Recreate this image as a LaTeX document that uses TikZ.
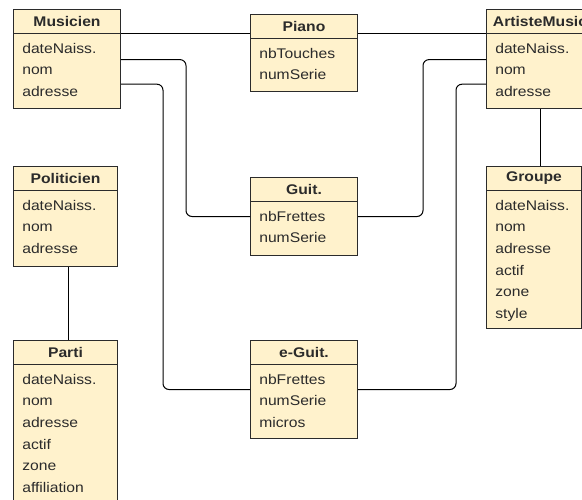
\documentclass[tikz,border=0pt]{standalone}
\usepackage{fontspec}
\usetikzlibrary{calc}
\newfontfamily\umlfont[FakeStretch=1.12]{Liberation Sans}
\definecolor{classfill}{HTML}{FFF2CC}
\definecolor{classline}{HTML}{2B2B2B}

\begin{document}
\begin{tikzpicture}[x=1pt, y=-1pt, semithick,
    font=\umlfont\fontsize{14}{16}\selectfont, text=classline,
    classbox/.style={draw=classline, fill=classfill, line width=1pt, inner sep=0, anchor=north west},
    title/.style={font=\umlfont\bfseries\fontsize{14}{16}\selectfont, minimum height=24, inner sep=0, anchor=north},
    attr/.style={anchor=north west, inner sep=0, text height=15, text depth=6},
    sep/.style={draw=classline, line width=1pt},
    link/.style={draw=black, line width=1pt, rounded corners=6}]
    \useasboundingbox (0,0) rectangle (582,499);
    \clip (0,0) rectangle (582,499);
    \fill[white] (0,0) rectangle (582,499);

    % Musicien
    \node[classbox, minimum width=107, minimum height=99] (musicien) at (13,9) {};
    \node[title] (musicien-title) at (musicien.north) {Musicien};
    \draw[sep] (musicien.west |- musicien-title.south) -- (musicien.east |- musicien-title.south);
    \node[attr] (musicien-date) at ($(musicien.north west)+(9,29)$) {dateNaiss.};
    \node[attr] (musicien-nom) at (musicien-date.south west) {nom};
    \node[attr] (musicien-adresse) at (musicien-nom.south west) {adresse};

    % Piano
    \node[classbox, minimum width=107, minimum height=77] (piano) at (250,14) {};
    \node[title] (piano-title) at (piano.north) {Piano};
    \draw[sep] (piano.west |- piano-title.south) -- (piano.east |- piano-title.south);
    \node[attr] (piano-touches) at ($(piano.north west)+(9,29)$) {nbTouches};
    \node[attr] (piano-serie) at (piano-touches.south west) {numSerie};

    % ArtisteMusic
    \node[classbox, minimum width=107, minimum height=99] (artiste) at (486,9) {};
    \node[title] (artiste-title) at (artiste.north) {ArtisteMusic};
    \draw[sep] (artiste.west |- artiste-title.south) -- (artiste.east |- artiste-title.south);
    \node[attr] (artiste-date) at ($(artiste.north west)+(9,29)$) {dateNaiss.};
    \node[attr] (artiste-nom) at (artiste-date.south west) {nom};
    \node[attr] (artiste-adresse) at (artiste-nom.south west) {adresse};

    % Politicien
    \node[classbox, minimum width=104, minimum height=100] (politicien) at (13,166) {};
    \node[title] (politicien-title) at (politicien.north) {Politicien};
    \draw[sep] (politicien.west |- politicien-title.south) -- (politicien.east |- politicien-title.south);
    \node[attr] (politicien-date) at ($(politicien.north west)+(9,29)$) {dateNaiss.};
    \node[attr] (politicien-nom) at (politicien-date.south west) {nom};
    \node[attr] (politicien-adresse) at (politicien-nom.south west) {adresse};

    % Parti
    \node[classbox, minimum width=104, minimum height=175] (parti) at (13,340) {};
    \node[title] (parti-title) at (parti.north) {Parti};
    \draw[sep] (parti.west |- parti-title.south) -- (parti.east |- parti-title.south);
    \node[attr] (parti-date) at ($(parti.north west)+(9,29)$) {dateNaiss.};
    \node[attr] (parti-nom) at (parti-date.south west) {nom};
    \node[attr] (parti-adresse) at (parti-nom.south west) {adresse};
    \node[attr] (parti-actif) at (parti-adresse.south west) {actif};
    \node[attr] (parti-zone) at (parti-actif.south west) {zone};
    \node[attr] (parti-affil) at (parti-zone.south west) {affiliation};

    % Guit.
    \node[classbox, minimum width=107, minimum height=78] (guit) at (250,177) {};
    \node[title] (guit-title) at (guit.north) {Guit.};
    \draw[sep] (guit.west |- guit-title.south) -- (guit.east |- guit-title.south);
    \node[attr] (guit-frettes) at ($(guit.north west)+(9,29)$) {nbFrettes};
    \node[attr] (guit-serie) at (guit-frettes.south west) {numSerie};

    % e-Guit.
    \node[classbox, minimum width=107, minimum height=98] (eguit) at (250,340) {};
    \node[title] (eguit-title) at (eguit.north) {e-Guit.};
    \draw[sep] (eguit.west |- eguit-title.south) -- (eguit.east |- eguit-title.south);
    \node[attr] (eguit-frettes) at ($(eguit.north west)+(9,29)$) {nbFrettes};
    \node[attr] (eguit-serie) at (eguit-frettes.south west) {numSerie};
    \node[attr] (eguit-micros) at (eguit-serie.south west) {micros};

    % Groupe
    \node[classbox, minimum width=95, minimum height=162] (groupe) at (486,166) {};
    \node[title] (groupe-title) at (groupe.north) {Groupe};
    \draw[sep] (groupe.west |- groupe-title.south) -- (groupe.east |- groupe-title.south);
    \node[attr] (groupe-date) at ($(groupe.north west)+(9,29)$) {dateNaiss.};
    \node[attr] (groupe-nom) at (groupe-date.south west) {nom};
    \node[attr] (groupe-adresse) at (groupe-nom.south west) {adresse};
    \node[attr] (groupe-actif) at (groupe-adresse.south west) {actif};
    \node[attr] (groupe-zone) at (groupe-actif.south west) {zone};
    \node[attr] (groupe-style) at (groupe-zone.south west) {style};

    % links
    \draw[link] (musicien.east |- musicien-title.south) -- (piano.west |- musicien-title.south);
    \draw[link] (piano.east |- artiste-title.south) -- (artiste.west |- artiste-title.south);
    \draw[link] (musicien.east |- musicien-nom.north) -- ++(65,0) |- (guit.west);
    \draw[link] (guit.east) -- ++(65,0) |- (artiste.west |- artiste-nom.north);
    \draw[link] ($(musicien.east |- musicien-adresse.north)+(0,3)$) -- ++(42,0) |- (eguit.west);
    \draw[link] (eguit.east) -- ++(98,0) |- ($(artiste.west |- artiste-adresse.north)+(0,3)$);
    \draw[link] (artiste.south) -- (artiste.south |- groupe.north);
    \draw[link] ([xshift=3]politicien.south) -- ([xshift=3]parti.north);
\end{tikzpicture}
\end{document}
